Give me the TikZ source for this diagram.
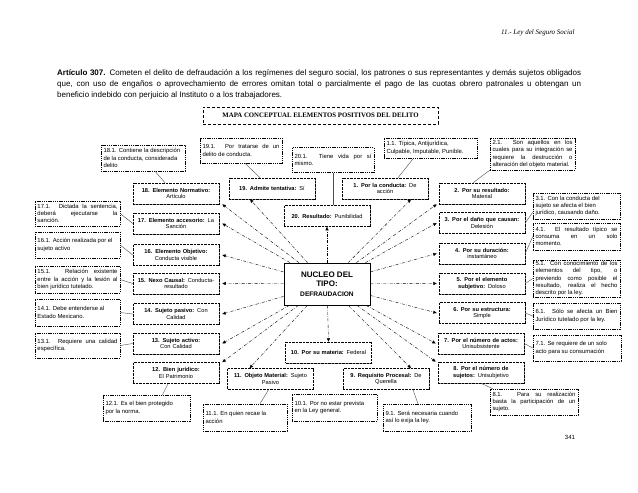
\documentclass[tikz,border=0pt]{standalone}
\usepackage{fontspec}
\setmainfont{Liberation Sans}
\newfontfamily\serifhead{Liberation Serif}
\usetikzlibrary{positioning, arrows.meta, calc, shadows}

\begin{document}
\begin{tikzpicture}[x=1pt, y=-1pt,
  font=\fontsize{5.7}{6.8}\selectfont,
  tipo/.style={draw, dash pattern=on 0.7pt off 0.7pt, line width=0.5pt, fill=white,
               drop shadow={shadow xshift=0.9pt, shadow yshift=-0.9pt, fill=black!40, opacity=1},
               minimum width=86pt, minimum height=21pt, text width=84pt,
               inner sep=1pt, align=center},
  nota/.style={draw, dash pattern=on 1.4pt off 0.8pt, line width=0.5pt,
               text width=80pt, inner xsep=2.5pt, inner ysep=1pt, align=justify,
               font=\fontsize{5.9}{7.3}\selectfont},
  flecha/.style={-{Triangle[length=3.5pt,width=3pt]}, line width=0.4pt,
                 dash pattern=on 3pt off 1.5pt on 0.5pt off 1.5pt},
  liga/.style={black!70, line width=0.4pt}
]
\useasboundingbox (0,0) rectangle (638,493);
% page head and article
\node[anchor=east, font=\serifhead\itshape\fontsize{7}{8}\selectfont] (cabecera) at (578,33)
  {11.- Ley del Seguro Social};
\node[anchor=north west, text width=524pt, inner sep=0pt, align=justify,
      font=\fontsize{8}{11}\selectfont] (articulo) at (57,69)
  {\textbf{Artículo 307.} Cometen el delito de defraudación a los regímenes del seguro social, los patrones o sus representantes y demás sujetos obligados\linebreak
   que, con uso de engaños o aprovechamiento de errores omitan total o parcialmente el pago de las cuotas obrero patronales u obtengan un\linebreak
   beneficio indebido con perjuicio al Instituto o a los trabajadores.};
\node[draw, dash pattern=on 3pt off 2pt, line width=0.8pt, minimum width=235pt,
      minimum height=17pt, font=\serifhead\bfseries\fontsize{6.8}{8}\selectfont] (titulo) at (320.5,115.5)
  {MAPA CONCEPTUAL ELEMENTOS POSITIVOS DEL DELITO};
% core
\node[draw, line width=0.8pt, minimum width=86pt, minimum height=42pt, inner sep=1pt,
      align=center, font=\bfseries\fontsize{8}{9.5}\selectfont] (nucleo) at (327,284)
  {NUCLEO DEL\\TIPO:\\{\fontsize{6.6}{9.5}\selectfont DEFRAUDACION}};
% elements
\node[tipo] (e20) at (327,216) {\textbf{20. Resultado:} Punibilidad};
\node[tipo] (e19) at (272,188.5) {\textbf{19. Admite tentativa:} Sí};
\node[tipo] (e1) at (385,188.5) {\textbf{1. Por la conducta:} De\\acción};
\node[tipo] (e18) at (176,193.5) {\textbf{18. Elemento Normativo:}\\Artículo};
\node[tipo] (e17) at (176,223.5) {\textbf{17. Elemento accesorio:} La\\Sanción};
\node[tipo] (e16) at (176,255) {\textbf{16. Elemento Objetivo:}\\Conducta visible};
\node[tipo] (e15) at (176,283.5) {\textbf{15. Nexo Causal:} Conducta-\\resultado};
\node[tipo] (e14) at (176,314) {\textbf{14. Sujeto pasivo:} Con\\Calidad};
\node[tipo] (e13) at (176,343.5) {\textbf{13. Sujeto activo:}\\Con Calidad};
\node[tipo] (e12) at (176,373) {\textbf{12. Bien jurídico:}\\El Patrimonio};
\node[tipo] (e11) at (270.5,379) {\textbf{11. Objeto Material:} Sujeto\\Pasivo};
\node[tipo] (e10) at (328.5,352.5) {\textbf{10. Por su materia:} Federal};
\node[tipo] (e9) at (386,379) {\textbf{9. Requisito Procesal:} De\\Querella};
\node[tipo] (e2) at (482,193.5) {\textbf{2. Por su resultado:}\\Material};
\node[tipo] (e3) at (482,223) {\textbf{3. Por el daño que causan:}\\Delesión};
\node[tipo] (e4) at (482,253.5) {\textbf{4. Por su duración:}\\instantáneo};
\node[tipo] (e5) at (482,283.5) {\textbf{5. Por el elemento}\\\textbf{subjetivo:} Doloso};
\node[tipo] (e6) at (482,313) {\textbf{6. Por su estructura:}\\Simple};
\node[tipo] (e7) at (481,343.5) {\textbf{7. Por el número de actos:}\\Unisubsistente};
\node[tipo] (e8) at (481,372.5) {\textbf{8. Por el número de}\\\textbf{sujetos:} Unisubjetivo};
% notes
\node[nota, minimum height=25pt, text width=77pt] (n19) at (241,150.5) {19.1. Por tratarse de un\linebreak delito de conducta.};
\node[nota, minimum height=20pt, text width=88pt] (n1) at (430.5,148) {1.1. Típica, Antijurídica,\\Culpable, Imputable, Punible.};
\node[nota, minimum height=25pt, text width=77pt] (n20) at (333,160) {20.1. Tiene vida por sí\linebreak mismo.};
\node[nota, minimum height=26pt, text width=79pt] (n18) at (143,158) {18.1. Contiene la descripción\\de la conducta, considerada\\delito};
\node[nota, minimum height=32pt] (n2) at (532.5,154) {2.1. Son aquellos en los\linebreak cuales para su integración se\linebreak requiere la destrucción o\linebreak alteración del objeto material.};
\node[nota, minimum height=26pt, text width=82pt] (n3) at (576.5,206) {3.1. Con la conducta del\\sujeto se afecta el bien\\jurídico, causando daño.};
\node[nota, minimum height=27pt, text width=82pt] (n4) at (576.5,236.5) {4.1. El resultado típico se\linebreak consuma en un solo\linebreak momento.};
\node[nota, minimum height=37pt, text width=82pt] (n5) at (576.5,278.5) {5.1. Con conocimiento de los\linebreak elementos del tipo, o\linebreak previendo como posible el\linebreak resultado, realiza el hecho\linebreak descrito por la ley.};
\node[nota, minimum height=26pt, text width=82pt] (n6) at (576.5,316) {6.1. Sólo se afecta un Bien\linebreak Jurídico tutelado por la ley.};
\node[nota, minimum height=26pt, text width=83pt] (n7) at (577,348) {7.1. Se requiere de un solo\\acto para su consumación};
\node[nota, minimum height=26pt, text width=83pt] (n8) at (534,402) {8.1. Para su realización\linebreak basta la participación de un\linebreak sujeto.};
\node[nota, minimum height=27pt, text width=83pt] (n9) at (427,417.5) {9.1. Será necesaria cuando\\así lo exija la ley.};
\node[nota, minimum height=27pt] (n10) at (334.5,407.5) {10.1. Por no estar prevista\\en la Ley general.};
\node[nota, minimum height=27pt, text width=79pt] (n11) at (245,417.5) {11.1. En quien recae la\\acción};
\node[nota, minimum height=26pt, text width=82pt] (n12) at (146.5,408) {12.1. Es el bien protegido\\por la norma.};
\node[nota, minimum height=25pt] (n13) at (77.5,345.5) {13.1. Requiere una calidad\linebreak específica.};
\node[nota, minimum height=27pt] (n14) at (77.5,312.5) {14.1. Debe entenderse al\\Estado Mexicano.};
\node[nota, minimum height=27pt] (n15) at (77.5,279.5) {15.1. Relación existente\linebreak entre la acción y la lesión al\linebreak bien jurídico tutelado.};
\node[nota, minimum height=26pt] (n16) at (77.5,245) {16.1. Acción realizada por el\\sujeto activo};
\node[nota, minimum height=25pt] (n17) at (77.5,213.5) {17.1. Dictada la sentencia,\linebreak deberá ejecutarse la\linebreak sanción.};
% page number
\node[font=\fontsize{6}{7}\selectfont] (pagina) at (570,437) {341};
% core -> elements
\draw[flecha] (nucleo) -- (e20.south);
\draw[flecha] (nucleo) -- (e10.north);
\draw[flecha] (nucleo) -- ($(e19.south)+(-22,0)$);
\draw[flecha] (nucleo) -- ($(e1.south)+(26,0)$);
\draw[flecha] (nucleo) -- ($(e11.north)+(-21,0)$);
\draw[flecha] (nucleo) -- ($(e9.north)+(25,0)$);
\draw[flecha] (nucleo) -- ($(e18.south east)+(3,0)$);
\draw[flecha] (nucleo) -- ($(e2.south west)+(-2,0)$);
\draw[flecha] (nucleo) -- ($(e12.north east)+(3,0)$);
\draw[flecha] (nucleo) -- ($(e8.north west)+(-2,0)$);
\foreach \e in {e17,e16,e15,e14,e13}
  \draw[flecha] (nucleo) -- ($(\e.east)+(3,0)$);
\foreach \e in {e3,e4,e5,e6,e7}
  \draw[flecha] (nucleo) -- ($(\e.west)+(-2,0)$);
% notes -> elements
\draw[liga] ($(n18.south)+(12,0)$) -- ($(e18.north)+(-11,0)$);
\draw[liga] ($(n19.south)+(4,0)$) -- ($(e19.north)+(-12,0)$);
\draw[liga] (n20.south) -- (n20.south |- e20.north);
\draw[liga] ($(n1.south)+(-17,0)$) -- ($(e1.north)+(13,0)$);
\draw[liga] (n2.south west) -- ($(e2.north)+(-9,0)$);
\draw[liga] (e3.east) -- ($(n3.south west)+(0,-7)$);
\draw[liga] (e4.east) -- (n4.west);
\draw[liga] (e5.east) -- (n5.west);
\draw[liga] (e6.east) -- (n6.west);
\draw[liga] (e7.east) -- (n7.west);
\draw[liga] (e8.south) -- ($(n8.north west)+(3,0)$);
\draw[liga] ($(e9.south)+(27,0)$) -- ($(n9.north)+(-9,0)$);
\draw[liga] ($(e10.south)+(3,0)$) -- ($(e10.south)+(3,0)$ |- n10.north);
\draw[liga] ($(e11.south)+(-2,0)$) -- ($(n11.north)+(15,0)$);
\draw[liga] ($(e12.south)+(-8,0)$) -- ($(n12.north)+(16,0)$);
\draw[liga] (n13.east) -- (e13.west);
\draw[liga] (n14.east) -- (e14.west);
\draw[liga] (n15.east) -- (e15.west);
\draw[liga] (n16.east) -- (e16.west);
\draw[liga] (n17.east) -- (e17.west);
\end{tikzpicture}
\end{document}
